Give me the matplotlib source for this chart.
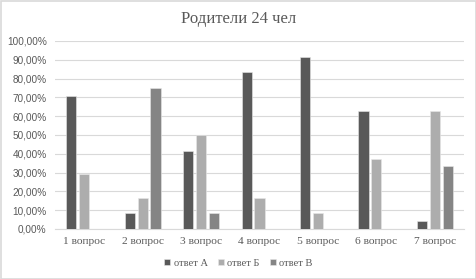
import matplotlib
matplotlib.use("Agg")
import matplotlib.pyplot as plt
import numpy as np
from matplotlib.ticker import FuncFormatter
from matplotlib.patches import Rectangle

categories = ["1 вопрос", "2 вопрос", "3 вопрос", "4 вопрос", "5 вопрос", "6 вопрос", "7 вопрос"]
series_names = ["ответ А", "ответ Б", "ответ В"]
answer_a = [70.83, 8.33, 41.67, 83.33, 91.67, 62.50, 4.17]
answer_b = [29.17, 16.67, 50.00, 16.67, 8.33, 37.50, 62.50]
answer_c = [0.0, 75.00, 8.33, 0.0, 0.0, 0.0, 33.33]
colors = ["#595959", "#adadad", "#858585"]

W, H = 477, 279
fig = plt.figure(figsize=(W / 100, H / 100), dpi=100)
ax = fig.add_axes([55 / W, 1 - 229 / H, 409 / W, 188 / H])

x = np.arange(len(categories))
bw = 0.175
step = 0.22
for i, (vals, name) in enumerate(zip([answer_a, answer_b, answer_c], series_names)):
    ax.bar(x + (i - 1) * step, vals, width=bw, color=colors[i], label=name,
           edgecolor="#e8e8e8", linewidth=0.4, zorder=3)

ax.set_xlim(-0.5, len(categories) - 0.5)
ax.set_ylim(0, 100)
ax.set_yticks(np.arange(0, 101, 10))
ax.yaxis.set_major_formatter(FuncFormatter(lambda v, p: f"{v:.2f}%".replace(".", ",")))
ax.grid(axis="y", color="#d9d9d9", linewidth=0.8, zorder=0)
for s in ["top", "right", "left"]:
    ax.spines[s].set_visible(False)
ax.spines["bottom"].set_color("#d9d9d9")
ax.spines["bottom"].set_linewidth(0.8)
ax.tick_params(axis="both", length=0, colors="#595959")
ax.tick_params(axis="y", labelsize=7.2, pad=6)
ax.set_xticks(x)
ax.set_xticklabels(categories, fontfamily="Liberation Serif", fontsize=8.2)
ax.tick_params(axis="x", pad=6)
for lab in ax.get_yticklabels():
    lab.set_fontfamily("Liberation Sans")

fig.text(0.5, 1 - 19 / H, "Родители 24 чел", ha="center", va="center",
         fontsize=12, color="#595959", fontfamily="Liberation Serif")

leg = fig.legend(loc="center", bbox_to_anchor=(0.5, 1 - 263 / H), ncol=3, frameon=False,
                 prop={"family": "Liberation Serif", "size": 7.5},
                 handlelength=0.6, handleheight=0.6, handletextpad=0.3, columnspacing=1.0)
for t in leg.get_texts():
    t.set_color("#595959")

fig.patches.append(Rectangle((0.5 / W, 0.5 / H), 1 - 1.5 / W, 1 - 1.5 / H, transform=fig.transFigure,
                             fill=False, edgecolor="#d9d9d9", linewidth=1.2))

fig.savefig("out.png", dpi=100)
